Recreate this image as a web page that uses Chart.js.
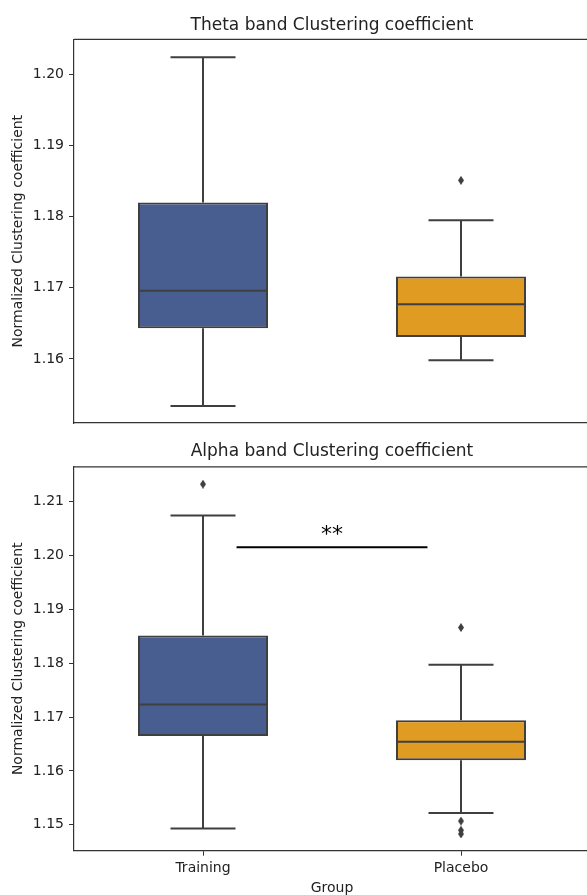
<!DOCTYPE html>
<html>
<head>
<meta charset="utf-8">
<script src="https://cdn.jsdelivr.net/npm/chart.js@4.4.1/dist/chart.umd.min.js"></script>
<style>
  html, body { margin: 0; padding: 0; background: #fff; overflow: hidden; }
  #wrap { position: relative; width: 587px; height: 895px; overflow: hidden; }
  canvas { position: absolute; left: 0; }
  #theta { top: 0; }
  #alpha { top: 430px; }
</style>
</head>
<body>
<div id="wrap">
  <canvas id="theta" width="590" height="430"></canvas>
  <canvas id="alpha" width="590" height="465"></canvas>
</div>
<script>
const groups = ['Training', 'Placebo'];

// Theta band box stats (per group)
const thetaQ1 = [1.1643, 1.1631];
const thetaMedian = [1.1696, 1.1677];
const thetaQ3 = [1.1820, 1.1716];
const thetaLow = [1.1534, 1.1598];
const thetaHigh = [1.2024, 1.1795];
const thetaOutliers = [[], [1.1851]];
const thetaTicks = [1.16, 1.17, 1.18, 1.19, 1.20];

// Alpha band box stats (per group)
const alphaQ1 = [1.1665, 1.1620];
const alphaMedian = [1.1723, 1.1654];
const alphaQ3 = [1.1851, 1.1694];
const alphaLow = [1.1493, 1.1522];
const alphaHigh = [1.2074, 1.1797];
const alphaOutliers = [[1.2132], [1.1866, 1.1507, 1.1490, 1.1483]];
const alphaTicks = [1.15, 1.16, 1.17, 1.18, 1.19, 1.20, 1.21];
const alphaSignif = { from: 0.13, to: 0.87, y: 1.2015, label: '**' };

const boxColors = ['#485e91', '#e09b23'];
const lineGray = '#3f3f3f';
const spineColor = '#333';

Chart.defaults.font.family = 'DejaVu Sans';
Chart.defaults.font.size = 14;
Chart.defaults.color = '#222';

// thin diamond marker like seaborn's fliers
const diamond = document.createElement('canvas');
diamond.width = 6; diamond.height = 9;
(function () {
  const c = diamond.getContext('2d');
  c.fillStyle = lineGray;
  c.beginPath();
  c.moveTo(3, 0); c.lineTo(6, 4.5); c.lineTo(3, 9); c.lineTo(0, 4.5);
  c.closePath(); c.fill();
})();

// whiskers, caps, medians, top spine, significance bar
const boxPlugin = {
  id: 'boxExtras',
  beforeDatasetsDraw(chart, args, opts) {
    const { ctx } = chart;
    const y = chart.scales.y;
    const meta = chart.getDatasetMeta(0);
    ctx.save();
    ctx.strokeStyle = lineGray;
    ctx.lineWidth = 2;
    meta.data.forEach((bar, i) => {
      const cap = bar.width / 4;
      const yHigh = y.getPixelForValue(opts.high[i]);
      const yLow = y.getPixelForValue(opts.low[i]);
      const yQ1 = y.getPixelForValue(opts.q1[i]);
      const yQ3 = y.getPixelForValue(opts.q3[i]);
      ctx.beginPath();
      ctx.moveTo(bar.x, yQ3); ctx.lineTo(bar.x, yHigh);
      ctx.moveTo(bar.x - cap, yHigh); ctx.lineTo(bar.x + cap, yHigh);
      ctx.moveTo(bar.x, yQ1); ctx.lineTo(bar.x, yLow);
      ctx.moveTo(bar.x - cap, yLow); ctx.lineTo(bar.x + cap, yLow);
      ctx.stroke();
    });
    ctx.restore();
  },
  afterDatasetsDraw(chart, args, opts) {
    const { ctx, chartArea } = chart;
    const y = chart.scales.y, x = chart.scales.x;
    const meta = chart.getDatasetMeta(0);
    ctx.save();
    ctx.strokeStyle = lineGray;
    ctx.lineWidth = 2;
    meta.data.forEach((bar, i) => {
      const ym = y.getPixelForValue(opts.median[i]);
      ctx.beginPath();
      ctx.moveTo(bar.x - bar.width / 2, ym);
      ctx.lineTo(bar.x + bar.width / 2, ym);
      ctx.stroke();
    });
    // top spine
    ctx.strokeStyle = spineColor;
    ctx.lineWidth = 1.2;
    ctx.beginPath();
    ctx.moveTo(chartArea.left, chartArea.top);
    ctx.lineTo(chartArea.right, chartArea.top);
    ctx.stroke();
    if (opts.signif) {
      const s = opts.signif;
      const x1 = x.getPixelForValue(s.from), x2 = x.getPixelForValue(s.to);
      const ys = y.getPixelForValue(s.y);
      ctx.strokeStyle = '#000';
      ctx.lineWidth = 2;
      ctx.beginPath();
      ctx.moveTo(x1, ys); ctx.lineTo(x2, ys);
      ctx.stroke();
      ctx.fillStyle = '#000';
      ctx.font = '22px "DejaVu Sans"';
      ctx.textAlign = 'center';
      ctx.textBaseline = 'alphabetic';
      ctx.fillText(s.label, (x1 + x2) / 2, ys - 6);
    }
    ctx.restore();
  }
};

function makeChart(id, cfg) {
  const outlierPts = [];
  cfg.outliers.forEach((vals, i) => vals.forEach(v => outlierPts.push({ x: groups[i], y: v })));

  return new Chart(document.getElementById(id), {
    type: 'bar',
    data: {
      labels: groups,
      datasets: [
        {
          data: groups.map((g, i) => [cfg.q1[i], cfg.q3[i]]),
          backgroundColor: boxColors,
          borderColor: lineGray,
          borderWidth: 2,
          borderSkipped: false,
          barPercentage: 0.504,
          categoryPercentage: 1,
          order: 1
        },
        {
          type: 'scatter',
          data: outlierPts,
          pointStyle: diamond,
          pointRadius: 4,
          order: 0
        }
      ]
    },
    options: {
      responsive: false,
      animation: false,
      layout: { padding: 0, autoPadding: false },
      plugins: {
        legend: { display: false },
        tooltip: { enabled: false },
        title: {
          display: true,
          text: cfg.title,
          fullSize: false,
          font: { size: 17, weight: 'normal', lineHeight: 1.2 },
          color: '#222',
          padding: cfg.titlePad
        },
        boxExtras: {
          q1: cfg.q1, q3: cfg.q3, median: cfg.median,
          low: cfg.low, high: cfg.high, signif: cfg.signif
        }
      },
      scales: {
        x: {
          offset: true,
          grid: { display: cfg.showX, drawOnChartArea: false, offset: false, tickLength: 5, color: spineColor },
          border: { display: true, color: spineColor, width: 1.2 },
          ticks: { display: cfg.showX, padding: 4, color: '#222' },
          title: {
            display: cfg.showX,
            text: 'Group',
            font: { size: 14, lineHeight: 1 },
            padding: { top: 0, bottom: 0 },
            color: '#222'
          },
          afterFit(s) { s.height = cfg.xHeight; s.paddingLeft = 0; s.paddingRight = 0; }
        },
        y: {
          min: cfg.min,
          max: cfg.max,
          grid: { drawOnChartArea: false, tickLength: 5, color: spineColor },
          border: { display: true, color: spineColor, width: 1.2 },
          ticks: { padding: 5, color: '#222', callback: v => v.toFixed(2) },
          afterBuildTicks(s) { s.ticks = cfg.ticks.map(v => ({ value: v })); },
          title: {
            display: true,
            text: 'Normalized Clustering coefficient',
            font: { size: 14, lineHeight: 1.2 },
            padding: { top: 10, bottom: 0 },
            color: '#222'
          },
          afterFit(s) { s.width = 74; s.paddingTop = 0; s.paddingBottom = 0; }
        }
      }
    },
    plugins: [boxPlugin]
  });
}

makeChart('theta', {
  title: 'Theta band Clustering coefficient',
  titlePad: { top: 15, bottom: 4 },
  q1: thetaQ1, q3: thetaQ3, median: thetaMedian, low: thetaLow, high: thetaHigh,
  outliers: thetaOutliers, ticks: thetaTicks,
  min: 1.1510, max: 1.2049,
  showX: false, xHeight: 7
});

makeChart('alpha', {
  title: 'Alpha band Clustering coefficient',
  titlePad: { top: 11.5, bottom: 5 },
  q1: alphaQ1, q3: alphaQ3, median: alphaMedian, low: alphaLow, high: alphaHigh,
  outliers: alphaOutliers, ticks: alphaTicks,
  min: 1.1452, max: 1.2164,
  showX: true, xHeight: 44.3,
  signif: alphaSignif
});
</script>
</body>
</html>
